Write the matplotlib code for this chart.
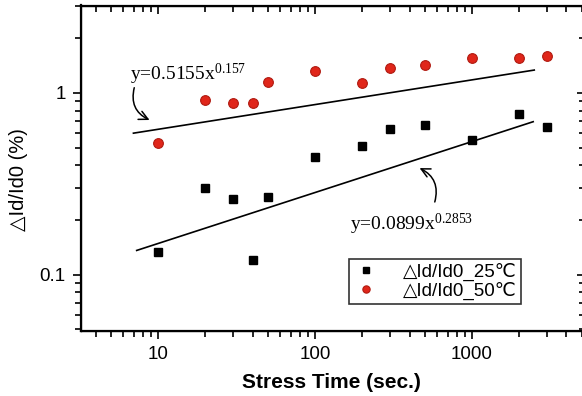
import numpy as np
import matplotlib
matplotlib.use('Agg')
import matplotlib.pyplot as plt

plt.rcParams['font.family'] = ['Liberation Sans', 'DejaVu Sans']
plt.rcParams['mathtext.fontset'] = 'custom'
plt.rcParams['mathtext.rm'] = 'Liberation Serif'

### Data ###
stress_time = [10, 20, 30, 40, 50, 100, 200, 300, 500, 1000, 2000, 3000]
did_25c = [0.133, 0.30, 0.262, 0.121, 0.267, 0.447, 0.513, 0.634, 0.670, 0.552, 0.764, 0.653]
did_50c = [0.533, 0.915, 0.878, 0.878, 1.145, 1.326, 1.14, 1.366, 1.425, 1.55, 1.56, 1.60]

# fitted trend lines as drawn (end points)
fit_50_x = [6.97, 2494]
fit_50_y = [0.601, 1.337]
fit_25_x = [7.31, 2455]
fit_25_y = [0.136, 0.695]

fit_50_label = r'y=0.5155$\mathrm{x^{0.157}}$'
fit_25_label = r'y=0.0899$\mathrm{x^{0.2853}}$'

W, H = 582, 396
fig = plt.figure(figsize = (W / 100, H / 100), dpi = 100)
ax = fig.add_axes([81 / W, 1 - 331 / H, (585 - 81) / W, (331 - 5.5) / H])

ax.set_xscale('log')
ax.set_yscale('log')
ax.set_xlim(3.23, 5250)
ax.set_ylim(0.049, 3.03)

ax.plot(stress_time, did_25c, linestyle = 'none', marker = 's', markersize = 6,
        color = 'black', label = '\u25b3Id/Id0_25\u2103')
ax.plot(stress_time, did_50c, linestyle = 'none', marker = 'o', markersize = 7,
        markerfacecolor = '#e0261a', markeredgecolor = '#b01a10', markeredgewidth = 0.8,
        label = '\u25b3Id/Id0_50\u2103')

ax.plot(fit_50_x, fit_50_y, color = 'black', lw = 1.2)
ax.plot(fit_25_x, fit_25_y, color = 'black', lw = 1.2)

# equations with curved arrows
ax.text(6.64, 1.18, fit_50_label, fontsize = 14, family = 'Liberation Serif')
ax.annotate('', xy = (9.16, 0.70), xytext = (7.13, 1.106),
            arrowprops = dict(arrowstyle = '->', color = 'black', lw = 1.1,
                              connectionstyle = 'arc3,rad=0.45', mutation_scale = 16))
ax.text(167, 0.177, fit_25_label, fontsize = 14, family = 'Liberation Serif')
ax.annotate('', xy = (447, 0.392), xytext = (573, 0.243),
            arrowprops = dict(arrowstyle = '->', color = 'black', lw = 1.1,
                              connectionstyle = 'arc3,rad=0.45', mutation_scale = 16))

# ticks: outward on left/bottom, inward mirrored on top/right
ax.tick_params(which = 'both', direction = 'out', width = 1.2, labelsize = 13.5)
ax.tick_params(which = 'major', length = 6, pad = 5)
ax.tick_params(which = 'minor', length = 4)
ax.set_xticks([10, 100, 1000])
ax.set_xticklabels(['10', '100', '1000'])
ax.set_yticks([0.1, 1])
ax.set_yticklabels(['0.1', '1'])

for spine in ax.spines.values():
    spine.set_linewidth(1.6)

axt = ax.twiny()
axt.set_xscale('log')
axt.set_xlim(ax.get_xlim())
axt.set_xticks([10, 100, 1000])
axt.tick_params(which = 'both', direction = 'in', width = 1.2, labeltop = False)
axt.tick_params(which = 'major', length = 6)
axt.tick_params(which = 'minor', length = 4)

axr = ax.twinx()
axr.set_yscale('log')
axr.set_ylim(ax.get_ylim())
axr.set_yticks([0.1, 1])
axr.tick_params(which = 'both', direction = 'in', width = 1.2, labelright = False)
axr.tick_params(which = 'major', length = 6)
axr.tick_params(which = 'minor', length = 4)

leg = ax.legend(
    loc = 'upper left', bbox_to_anchor = ((349 - 81) / 504, (331 - 259) / 325.5),
    fontsize = 13.5, markerscale = 0.75, frameon = True, fancybox = False,
    handlelength = 1.4, handletextpad = 1.3, borderpad = 0.2, labelspacing = 0.05,
    borderaxespad = 0,
)
leg.get_frame().set_edgecolor('black')
leg.get_frame().set_linewidth(1.2)

fig.text(331 / W, 1 - 383 / H, 'Stress Time (sec.)', fontsize = 15, fontweight = 'bold',
         ha = 'center', va = 'center')
fig.text(19 / W, 1 - 180 / H, '\u25b3Id/Id0 (%)', fontsize = 14.5, rotation = 90,
         ha = 'center', va = 'center')

fig.savefig('out.png', dpi = 100)
